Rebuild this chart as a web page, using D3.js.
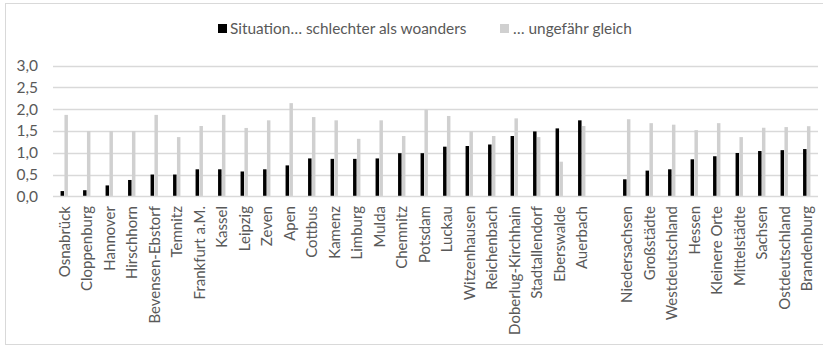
<!DOCTYPE html>
<html>
<head>
<meta charset="utf-8">
<script src="https://cdn.jsdelivr.net/npm/d3@7"></script>
<style>
  html, body { margin: 0; padding: 0; background: #fff; }
  svg { display: block; }
  text { font-family: Lato, "Open Sans", sans-serif; fill: #595959; }
</style>
</head>
<body>
<svg id="chart" width="823" height="347"></svg>
<script>
const categories = [
  "Osnabrück", "Cloppenburg", "Hannover", "Hirschhorn", "Bevensen-Ebstorf", "Temnitz",
  "Frankfurt a.M.", "Kassel", "Leipzig", "Zeven", "Apen", "Cottbus", "Kamenz", "Limburg",
  "Mulda", "Chemnitz", "Potsdam", "Luckau", "Witzenhausen", "Reichenbach",
  "Doberlug-Kirchhain", "Stadtallendorf", "Eberswalde", "Auerbach", "",
  "Niedersachsen", "Großstädte", "Westdeutschland", "Hessen", "Kleinere Orte",
  "Mittelstädte", "Sachsen", "Ostdeutschland", "Brandenburg"
];
const seriesNames = ["Situation… schlechter als woanders", "… ungefähr gleich"];
const schlechter = [
  0.12, 0.14, 0.25, 0.375, 0.50, 0.50, 0.62, 0.62, 0.57, 0.62, 0.71, 0.87, 0.86, 0.86,
  0.87, 0.99, 0.99, 1.14, 1.155, 1.19, 1.385, 1.49, 1.56, 1.745, null,
  0.39, 0.59, 0.62, 0.85, 0.92, 0.995, 1.04, 1.06, 1.085
];
const gleich = [
  1.87, 1.50, 1.50, 1.50, 1.87, 1.36, 1.615, 1.87, 1.57, 1.745, 2.14, 1.82, 1.745, 1.32,
  1.745, 1.385, 1.99, 1.845, 1.49, 1.385, 1.79, 1.36, 0.795, 1.615, null,
  1.77, 1.68, 1.645, 1.52, 1.68, 1.36, 1.575, 1.59, 1.61
];
const yTicks = [0, 0.5, 1.0, 1.5, 2.0, 2.5, 3.0];
const colors = ["#000000", "#d0d0d0"];

const svg = d3.select("#chart");
const W = 823, H = 347;
const plot = { left: 53, right: 818, top: 65.7, bottom: 196.3 };

// outer chart border
svg.append("rect")
  .attr("x", 5.5).attr("y", 3.5)
  .attr("width", W - 2).attr("height", H - 6)
  .attr("fill", "none").attr("stroke", "#d9d9d9").attr("stroke-width", 1);

const x = d3.scaleBand().domain(d3.range(categories.length))
  .range([plot.left, plot.right]).paddingInner(0).paddingOuter(0);
const inner = d3.scaleBand().domain([0, 1])
  .range([0, x.bandwidth()]).paddingInner(0.1).paddingOuter(1.95);
const y = d3.scaleLinear().domain([0, 3]).range([plot.bottom, plot.top]);

// gridlines
svg.append("g").selectAll("line").data(yTicks.filter(d => d > 0)).join("line")
  .attr("x1", plot.left).attr("x2", plot.right)
  .attr("y1", d => Math.round(y(d)) + 0.5).attr("y2", d => Math.round(y(d)) + 0.5)
  .attr("stroke", "#d9d9d9").attr("stroke-width", 1.3);

// y axis labels
const fmt = d => d3.format(".1f")(d).replace(".", ",");
svg.append("g").selectAll("text").data(yTicks).join("text")
  .attr("x", 38).attr("y", d => y(d)).attr("dy", "0.35em")
  .attr("text-anchor", "end").attr("font-size", 15.5)
  .text(fmt);

// bars
const series = [schlechter, gleich];
series.forEach((vals, si) => {
  svg.append("g").selectAll("rect").data(vals.map((v, i) => ({ v, i })).filter(d => d.v != null))
    .join("rect")
    .attr("x", d => x(d.i) + inner(si))
    .attr("width", inner.bandwidth())
    .attr("y", d => y(d.v))
    .attr("height", d => y(0) - y(d.v))
    .attr("fill", colors[si]);
});

// baseline
svg.append("line")
  .attr("x1", plot.left).attr("x2", plot.right)
  .attr("y1", Math.round(y(0)) + 0.5).attr("y2", Math.round(y(0)) + 0.5)
  .attr("stroke", "#d9d9d9").attr("stroke-width", 1.3);

// category labels (rotated)
svg.append("g").selectAll("text").data(categories.map((c, i) => ({ c, i }))).join("text")
  .attr("transform", d => `translate(${x(d.i) + x.bandwidth() / 2},206) rotate(-90)`)
  .attr("text-anchor", "end").attr("dy", "0.35em")
  .attr("font-size", 15)
  .text(d => d.c);

// legend
const legend = [
  { name: seriesNames[0], color: colors[0], x: 218, tx: 230 },
  { name: seriesNames[1], color: colors[1], x: 500, tx: 513 }
];
const lg = svg.append("g");
legend.forEach(l => {
  lg.append("rect").attr("x", l.x).attr("y", 24).attr("width", 9).attr("height", 9).attr("fill", l.color);
  lg.append("text").attr("x", l.tx).attr("y", 33.5).attr("font-size", 15.4).text(l.name);
});
</script>
</body>
</html>
